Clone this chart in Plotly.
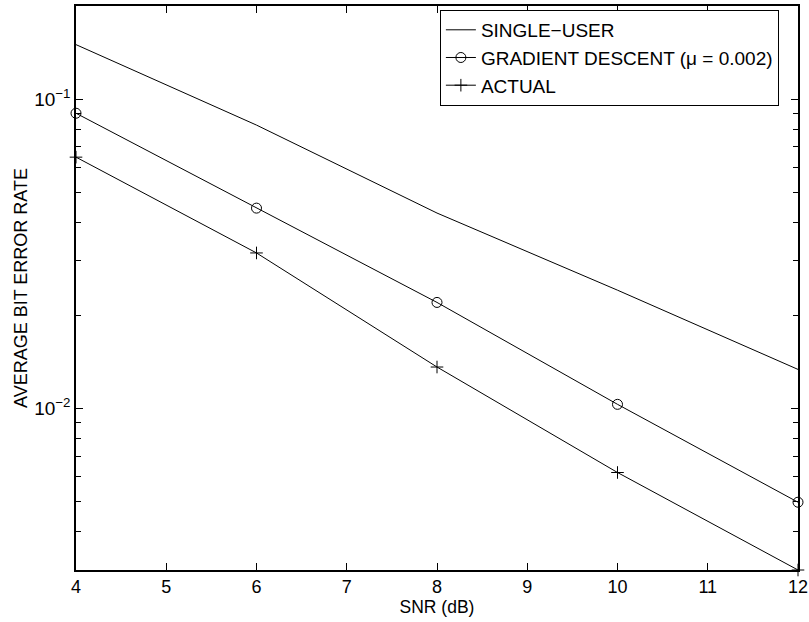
import plotly.graph_objects as go
import numpy as np

snr = [4, 6, 8, 10, 12]
single_user = [0.150, 0.0824, 0.0428, 0.0241, 0.01336]
gradient = [0.0900, 0.0444, 0.0220, 0.0103, 0.00497]
actual = [0.0649, 0.0318, 0.0136, 0.0062, 0.0030]

x_ticks = [4, 5, 6, 7, 8, 9, 10, 11, 12]
y_major = [0.01, 0.1]
y_major_text = ["10<sup>\u22122</sup>", "10<sup>\u22121</sup>"]
y_minor = [m * 10.0 ** e for e in (-3, -2, -1) for m in range(2, 10)]

font = "Liberation Sans, Arial, Helvetica, sans-serif"

fig = go.Figure()
fig.add_trace(go.Scatter(x=snr, y=single_user, mode="lines", name="SINGLE\u2212USER",
                         line=dict(color="black", width=1)))
fig.add_trace(go.Scatter(x=snr, y=gradient, mode="lines+markers",
                         name="GRADIENT DESCENT (\u03bc = 0.002)",
                         line=dict(color="black", width=1),
                         marker=dict(symbol="circle-open", size=10, color="black",
                                     line=dict(width=1, color="black")),
                         cliponaxis=False))
fig.add_trace(go.Scatter(x=snr, y=actual, mode="lines+markers", name="ACTUAL",
                         line=dict(color="black", width=1),
                         marker=dict(symbol="cross-thin", size=9, color="black",
                                     line=dict(width=1, color="black")),
                         cliponaxis=False))

fig.update_layout(
    width=809, height=622,
    margin=dict(l=76, r=11, t=6, b=52),
    paper_bgcolor="white", plot_bgcolor="white",
    font=dict(family=font, size=18, color="black"),
    showlegend=True,
    legend=dict(x=0.504, y=0.993, xanchor="left", yanchor="top",
                bordercolor="black", borderwidth=1, bgcolor="white",
                font=dict(family=font, size=19, color="black"),
                tracegroupgap=0, itemwidth=30),
    xaxis=dict(range=[4, 12], tickvals=x_ticks, ticks="inside", ticklen=7,
               tickcolor="black", showline=True, linecolor="black", linewidth=1.5,
               mirror="ticks", showgrid=False, zeroline=False, automargin=False,
               title=dict(text="SNR (dB)", font=dict(family=font, size=17.5), standoff=0),
               tickfont=dict(family=font, size=18)),
    yaxis=dict(type="log", range=[np.log10(0.003), np.log10(0.2)],
               tickvals=y_major, ticktext=y_major_text, ticks="inside", ticklen=7,
               tickcolor="black", showline=True, linecolor="black", linewidth=1.5,
               mirror="ticks", showgrid=False, zeroline=False, automargin=False,
               minor=dict(tickvals=y_minor, ticks="inside", ticklen=5,
                          tickcolor="black", showgrid=False),
               title=dict(text="AVERAGE BIT ERROR RATE", font=dict(family=font, size=18),
                          standoff=2),
               tickfont=dict(family=font, size=19)),
)

fig.write_html("out.html", config={"displayModeBar": False},
               post_script="document.body.style.margin='0';document.body.style.padding='0';")
